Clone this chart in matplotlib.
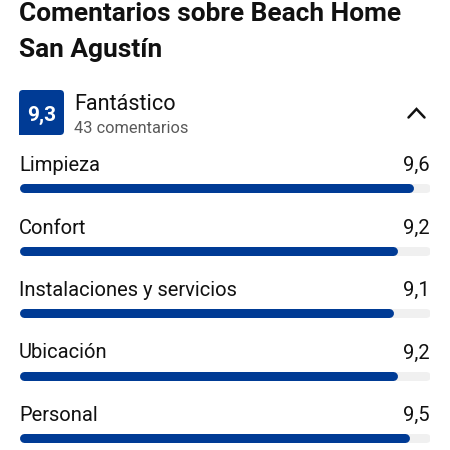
import matplotlib.pyplot as plt
from matplotlib.patches import FancyBboxPatch, Rectangle

title_lines = ["Comentarios sobre Beach Home", "San Agustín"]
overall_score = "9,3"
overall_label = "Fantástico"
review_count = "43 comentarios"
categories = ["Limpieza", "Confort", "Instalaciones y servicios", "Ubicación", "Personal"]
scores = [9.6, 9.2, 9.1, 9.2, 9.5]
max_score = 10

blue = "#003b95"
track = "#f0f0f0"
plt.rcParams['font.family'] = ['Roboto', 'DejaVu Sans']

fig = plt.figure(figsize=(4.5, 4.5), dpi=100)
fig.patch.set_facecolor("white")

# overlay in pixel coords for header stuff
top = fig.add_axes([0, 0, 1, 1])
top.set_xlim(0, 450)
top.set_ylim(450, 0)
top.axis("off")

top.text(19, 21, title_lines[0], fontsize=18.9, fontweight="bold", color="#111111", va="baseline")
top.text(19, 57.5, title_lines[1], fontsize=18.9, fontweight="bold", color="#111111", va="baseline")

# badge: rounded except bottom-left corner
badge = FancyBboxPatch((19, 90), 45, 45, boxstyle="round,pad=0,rounding_size=4",
                       facecolor=blue, edgecolor="none")
top.add_patch(badge)
top.add_patch(Rectangle((19, 125), 10, 10, facecolor=blue, edgecolor="none"))
top.text(41.5, 120.5, overall_score, fontsize=15, fontweight="bold", color="white",
         ha="center", va="baseline")
top.text(74, 110.5, overall_label, fontsize=15.6, color="#111111", va="baseline")
top.text(74, 133, review_count, fontsize=11.8, color="#595959", va="baseline")

# chevron
top.plot([408.5, 416.5, 424.5], [117.5, 109, 117.5], color="#111111", lw=1.8,
         solid_capstyle="round", solid_joinstyle="miter")

# score rows: x is score 0..10 across the track, y in pixels
ax = fig.add_axes([19 / 450, 0, 411 / 450, 1])
ax.set_xlim(0, max_score)
ax.set_ylim(450, 0)
ax.axis("off")

lw_px = 9
cap = (lw_px / 2) / (411 / max_score)
for i, (cat, s) in enumerate(zip(categories, scores)):
    base = 171 + 62.5 * i
    ax.text(0, base, cat, fontsize=14.5, color="#111111", va="baseline", ha="left")
    ax.text(max_score, base, f"{s:.1f}".replace(".", ","), fontsize=14.5, color="#111111",
            va="baseline", ha="right")
    yb = base + 17
    ax.plot([cap, max_score - cap], [yb, yb], color=track, lw=lw_px * 0.72,
            solid_capstyle="round")
    ax.plot([cap, s - cap], [yb, yb], color=blue, lw=lw_px * 0.72,
            solid_capstyle="round")

fig.savefig("out.png", dpi=100)
